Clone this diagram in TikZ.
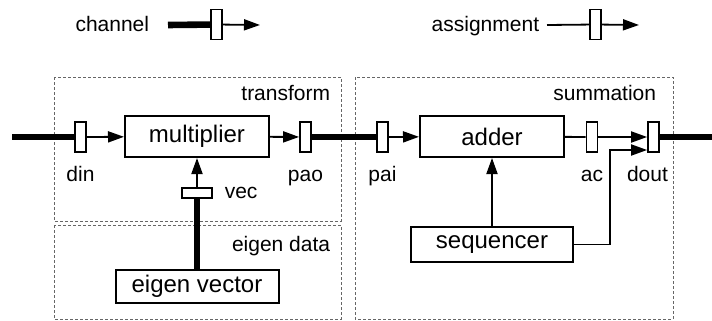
\documentclass[tikz,border=0pt]{standalone}
\usepackage{fontspec}
\setmainfont{Liberation Sans}
\usetikzlibrary{positioning,arrows.meta}
\tikzstyle{block} = [draw, line width=1pt, inner sep=0pt, minimum width=72pt, minimum height=20.5pt, font=\fontsize{12}{14}\selectfont]
\tikzstyle{port} = [draw, fill=white, line width=0.9pt, inner sep=0pt, minimum width=5.5pt, minimum height=15pt]
\tikzstyle{vport} = [port, minimum width=15pt, minimum height=5pt]
\tikzstyle{tag} = [inner sep=0pt, font=\fontsize{10.5}{12.5}\selectfont, text height=7.5pt, text depth=2.2pt]
\tikzstyle{channel} = [-, line width=3.3pt]
\tikzstyle{region} = [-, black!60, line width=0.5pt, dash pattern=on 1.5pt off 1pt]

\begin{document}
\begin{tikzpicture}[x=0.5pt, y=-0.5pt, line width=0.9pt, ->, >={Triangle[length=8pt,width=5.5pt]}]
		\useasboundingbox (0,0) rectangle (712,321);
		% Regions
		\draw[region] (54,77) rectangle (341,221);
		\draw[region] (54,225) rectangle (341,319);
		\draw[region] (355,77) rectangle (673,319);
		\node[tag, anchor=base east] (transform) at (331,100) {transform};
		\node[tag, anchor=base east] (eigendata) at (331,251) {eigen data};
		\node[tag, anchor=base east] (summation) at (657,100) {summation};
		% Legend
		\node[tag, anchor=base east] (chlabel) at (150,32) {channel};
		\coordinate (chfrom) at (168,25);
		\node[port] (chport) at (216.5,24.5) {};
		\coordinate (chto) at (260,25);
		\node[tag, anchor=base east] (aslabel) at (540,32) {assignment};
		\coordinate (asfrom) at (547,25);
		\node[port] (asport) at (595.5,24.5) {};
		\coordinate (asto) at (639,25);
		% Nodes
		\node[block] (mult) at (197,136.5) {multiplier};
		\node[port] (din) at (80.5,137) {};
		\node[port] (pao) at (305.5,137) {};
		\node[vport] (vec) at (197,193) {};
		\node[block, minimum width=81.5pt, minimum height=16.5pt] (eig) at (197,286.5) {eigen vector};
		\node[block] (adder) at (492,136.5) {adder};
		\node[port] (pai) at (382.5,137) {};
		\node[port] (ac) at (592,137) {};
		\node[port] (dout) at (653.5,137) {};
		\node[block, minimum width=81pt, minimum height=17.5pt] (seq) at (492,244.5) {sequencer};
		\coordinate (in) at (12,137);
		\coordinate (out) at (712,137);
		% Port names
		\node[tag, below=6.5pt of din] (dinlabel) {din};
		\node[tag, below=6.5pt of pao] (paolabel) {pao};
		\node[tag, right=5.5pt of vec] (veclabel) {vec};
		\node[tag, below=6.5pt of pai] (pailabel) {pai};
		\node[tag, below=6.5pt of ac] (aclabel) {ac};
		\node[tag, below=6.5pt of dout, xshift=-3pt] (doutlabel) {dout};
		%Arrows
		\path
		(in) edge[channel] (din)
		(din) edge (mult)
		(mult) edge (pao)
		(pao) edge[channel] (pai)
		(pai) edge (adder)
		(adder) edge[-] (ac)
		(ac) edge (dout)
		(dout) edge[channel] (out)
		(eig) edge[channel] (vec)
		(vec) edge (mult)
		(seq) edge (adder)
		(chfrom) edge[channel] (chport)
		(chport) edge (chto)
		(asfrom) edge[-] (asport)
		(asport) edge (asto)
		;
		\draw (seq.east) -- ++(36,0) |- ([yshift=-6.5pt]dout.west);
	\end{tikzpicture}
\end{document}
